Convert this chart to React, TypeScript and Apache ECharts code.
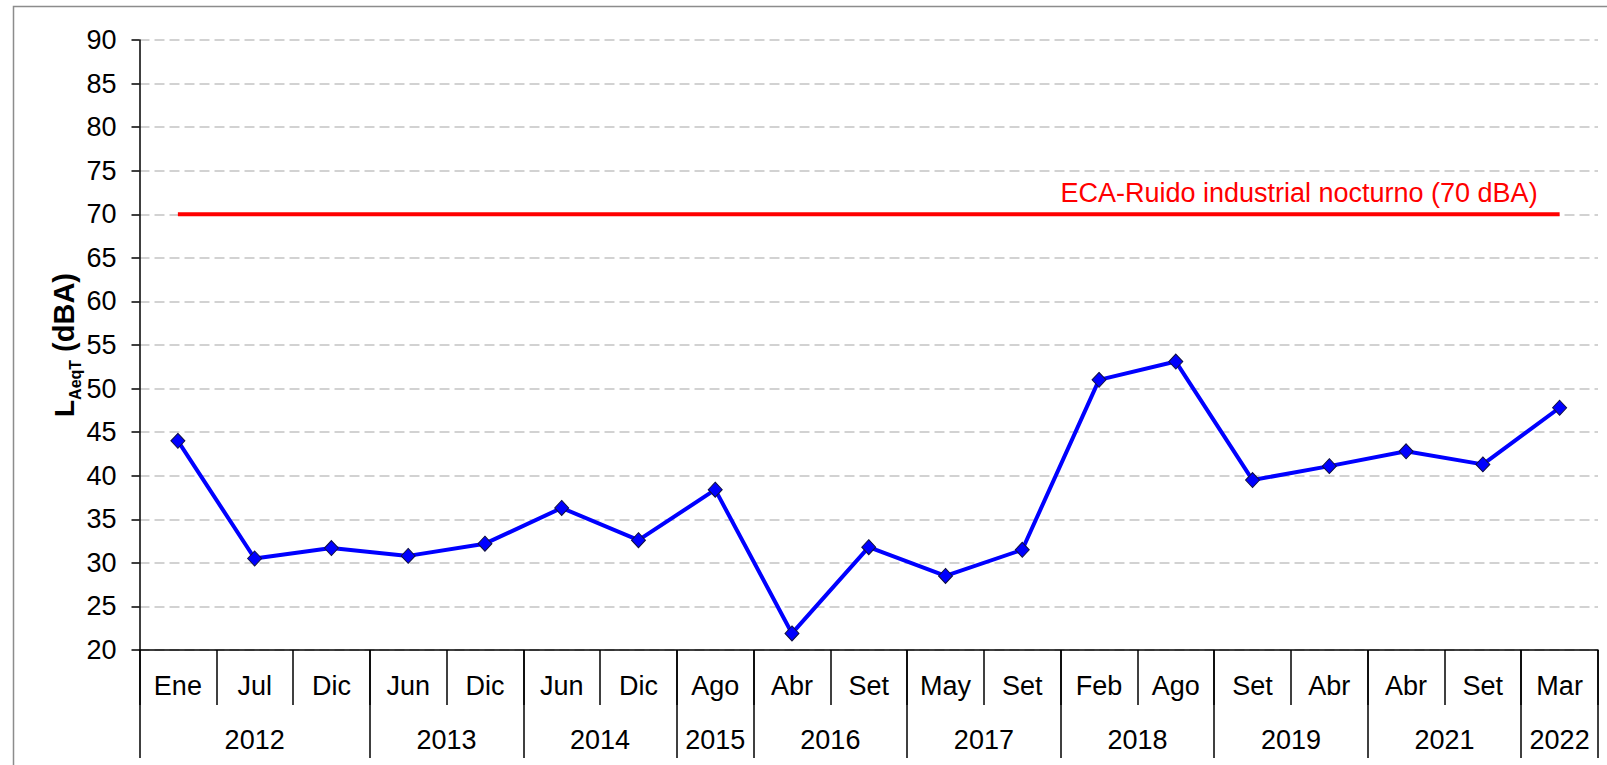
import React, { useEffect, useRef } from "react";
import * as echarts from "echarts";

const months = ["Ene", "Jul", "Dic", "Jun", "Dic", "Jun", "Dic", "Ago", "Abr", "Set", "May", "Set", "Feb", "Ago", "Set", "Abr", "Abr", "Set", "Mar"];
const laeqValues = [44.0, 30.5, 31.7, 30.8, 32.2, 36.3, 32.6, 38.4, 21.9, 31.8, 28.5, 31.5, 51.0, 53.1, 39.5, 41.1, 42.8, 41.3, 47.8];
const years = ["2012", "2013", "2014", "2015", "2016", "2017", "2018", "2019", "2021", "2022"];
const yearSpans = [3, 2, 2, 1, 2, 2, 2, 2, 2, 1];
const limitValue = 70;
const limitLabel = "ECA-Ruido industrial nocturno (70 dBA)";
const yMin = 20;
const yMax = 90;
const yStep = 5;

const FONT = "'Liberation Sans', Arial, sans-serif";

export default function App() {
  const ref = useRef<HTMLDivElement>(null);

  useEffect(() => {
    if (!ref.current) return;
    const chart = echarts.init(ref.current, null, { renderer: "svg" });

    const boundaries: number[] = [0];
    const centers: number[] = [];
    let acc = 0;
    yearSpans.forEach((s) => {
      centers.push(acc + s / 2);
      acc += s;
      boundaries.push(acc);
    });

    const limitData = months.map(() => limitValue);

    chart.setOption({
      animation: false,
      backgroundColor: "#ffffff",
      grid: { left: 139.5, right: 9, top: 40, bottom: 115, containLabel: false },
      graphic: [
        {
          type: "rect",
          z: -10,
          shape: { x: 13.5, y: 6.5, width: 1600, height: 800 },
          style: { fill: "none", stroke: "#8c8c8c", lineWidth: 1.5 },
        },
      ],
      xAxis: [
        {
          type: "category",
          data: months,
          boundaryGap: true,
          axisLine: { show: true, lineStyle: { color: "#000", width: 1.5 } },
          axisTick: { show: true, interval: 0, length: 55, lineStyle: { color: "#000", width: 1.5 } },
          axisLabel: { interval: 0, margin: 22, fontSize: 27, color: "#000", fontFamily: FONT },
          splitLine: { show: false },
        },
        {
          type: "value",
          min: 0,
          max: months.length,
          position: "bottom",
          axisLine: { show: false },
          splitLine: { show: false },
          axisTick: {
            show: true,
            customValues: boundaries,
            length: 108,
            lineStyle: { color: "#000", width: 1.5 },
          },
          axisLabel: {
            show: true,
            customValues: centers,
            margin: 76,
            fontSize: 27,
            color: "#000",
            fontFamily: FONT,
            formatter: (v: number) => {
              const idx = centers.findIndex((c) => Math.abs(c - v) < 1e-6);
              return idx >= 0 ? years[idx] : "";
            },
          },
        },
      ],
      yAxis: {
        type: "value",
        min: yMin,
        max: yMax,
        interval: yStep,
        name: "{L|L}{sub|AeqT}{u|(dBA)}",
        nameLocation: "middle",
        nameRotate: 90,
        nameGap: 61,
        nameMoveOverlap: false,
        nameTextStyle: {
          fontFamily: FONT,
          color: "#000",
          rich: {
            L: { fontSize: 28, fontWeight: "bold", fontFamily: FONT, color: "#000" },
            sub: { fontSize: 16, fontWeight: "bold", fontFamily: FONT, color: "#000", verticalAlign: "bottom", padding: [0, 8, -5, 0] },
            u: { fontSize: 29, fontWeight: "bold", fontFamily: FONT, color: "#000" },
          },
        },
        axisLine: { show: true, lineStyle: { color: "#000", width: 1.5 } },
        axisTick: { show: true, length: 8, lineStyle: { color: "#000", width: 1.5 } },
        axisLabel: { margin: 23, fontSize: 27, color: "#000", fontFamily: FONT },
        splitLine: { show: true, lineStyle: { color: "#c4c4c4", width: 1.5, type: [10, 5] } },
      },
      series: [
        {
          name: "ECA",
          type: "line",
          xAxisIndex: 0,
          data: limitData,
          showSymbol: false,
          symbol: "none",
          lineStyle: { color: "#ff0000", width: 4 },
          itemStyle: { color: "#ff0000" },
          endLabel: {
            show: true,
            formatter: limitLabel,
            align: "right",
            verticalAlign: "bottom",
            offset: [-22, -8],
            distance: 0,
            color: "#ff0000",
            fontSize: 27,
            fontFamily: FONT,
          },
          z: 3,
        },
        {
          name: "LAeqT",
          type: "line",
          xAxisIndex: 0,
          data: laeqValues,
          symbol: "diamond",
          symbolSize: [14, 15],
          lineStyle: { color: "#0000ff", width: 4 },
          itemStyle: { color: "#0000ff", borderColor: "#101040", borderWidth: 1 },
          z: 4,
        },
      ],
    });

    return () => chart.dispose();
  }, []);

  return (
    <div
      ref={ref}
      style={{ position: "absolute", left: 0, top: 0, width: 1607, height: 765 }}
    />
  );
}
